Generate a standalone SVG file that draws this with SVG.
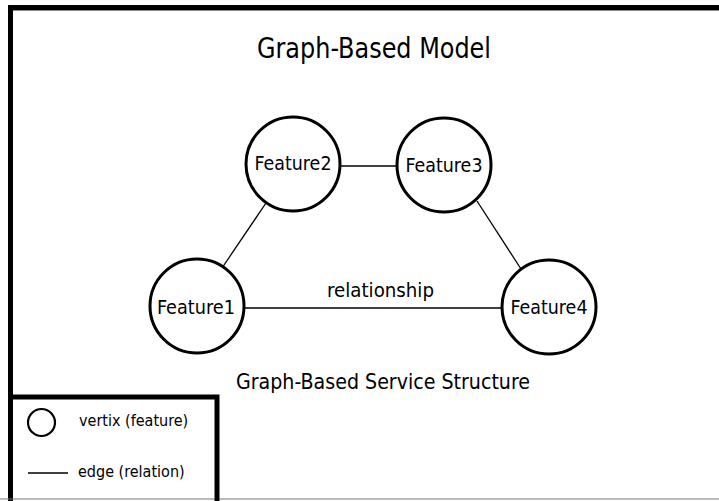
<svg xmlns="http://www.w3.org/2000/svg" width="719" height="501" viewBox="0 0 719 501">
  <style>
    text { font-family: "DejaVu Sans Condensed", "DejaVu Sans", sans-serif; font-stretch: condensed; fill: #000; }
    .node circle { fill: #fff; stroke: #000; stroke-width: 3; }
    .node text { font-size: 20px; text-anchor: middle; }
    .edges line { stroke: #000; stroke-width: 1.3; }
    .label { text-anchor: middle; }
    .legend text { font-size: 16px; }
  </style>
  <rect width="719" height="501" fill="#fff"/>

  <!-- outer frame -->
  <g id="frame">
    <line x1="8" y1="7.5" x2="719" y2="7.5" stroke="#000" stroke-width="5"/>
    <line x1="8" y1="10.5" x2="719" y2="10.5" stroke="#888" stroke-width="1"/>
    <line x1="10.5" y1="5" x2="10.5" y2="501" stroke="#000" stroke-width="5"/>
    <line x1="0" y1="499" x2="719" y2="499" stroke="#777" stroke-width="1.2"/>
  </g>

  <text class="label" x="374" y="58" style="font-size:29px" textLength="234" lengthAdjust="spacingAndGlyphs">Graph-Based Model</text>

  <!-- relations -->
  <g id="edges" class="edges">
    <line x1="341" y1="166" x2="397" y2="166"/>
    <line x1="245" y1="308" x2="502" y2="308"/>
    <line x1="222" y1="268" x2="266" y2="203"/>
    <line x1="477" y1="201" x2="521" y2="269"/>
  </g>

  <g id="feature1" class="node">
    <circle cx="197" cy="306" r="47"/>
    <text x="196" y="314" textLength="78" lengthAdjust="spacingAndGlyphs">Feature1</text>
  </g>
  <g id="feature2" class="node">
    <circle cx="293" cy="164" r="47"/>
    <text x="293" y="170" textLength="77" lengthAdjust="spacingAndGlyphs">Feature2</text>
  </g>
  <g id="feature3" class="node">
    <circle cx="444" cy="165" r="47"/>
    <text x="444" y="172" textLength="77" lengthAdjust="spacingAndGlyphs">Feature3</text>
  </g>
  <g id="feature4" class="node">
    <circle cx="549" cy="307" r="47"/>
    <text x="549" y="314" textLength="77" lengthAdjust="spacingAndGlyphs">Feature4</text>
  </g>

  <text class="label" x="380.5" y="297" style="font-size:20px" textLength="107" lengthAdjust="spacingAndGlyphs">relationship</text>
  <text class="label" x="383" y="389" style="font-size:21px" textLength="294" lengthAdjust="spacingAndGlyphs">Graph-Based Service Structure</text>

  <!-- legend -->
  <g id="legend" class="legend">
    <path d="M10 397 H217 V501" fill="none" stroke="#000" stroke-width="5"/>
    <circle cx="41.5" cy="422.5" r="13.5" fill="none" stroke="#000" stroke-width="2.2"/>
    <text x="79" y="426">vertix (feature)</text>
    <line x1="28" y1="473" x2="68" y2="473" stroke="#000" stroke-width="1.3"/>
    <text x="78" y="477">edge (relation)</text>
  </g>
</svg>
